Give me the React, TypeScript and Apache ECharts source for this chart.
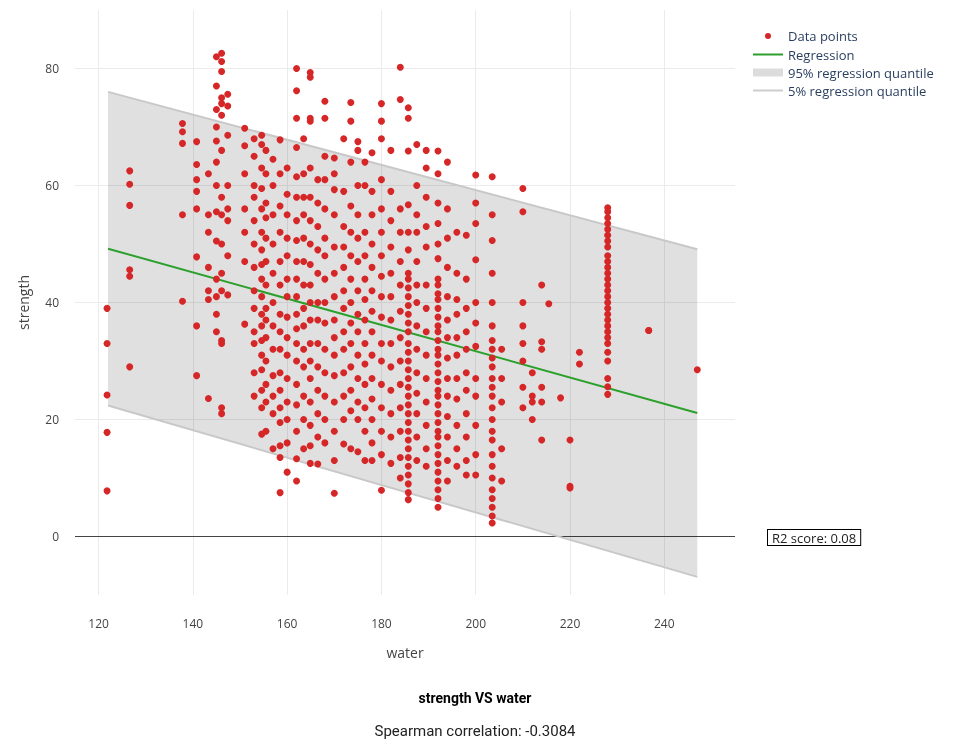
import React, { useEffect, useRef } from "react";
import * as echarts from "echarts";

// water value -> strength readings
const columns: [number, number[]][] = [
  [121.8, [39, 33, 24.2, 17.8, 7.8]],
  [126.6, [62.5, 60.2, 56.6, 45.6, 44.5, 29]],
  [137.8, [70.6, 69.2, 67.2, 55, 40.2]],
  [140.8, [67.5, 63.6, 61, 59, 56, 47.8, 36, 27.5]],
  [143.3, [62, 55, 52, 46, 42, 40.5, 23.6]],
  [145, [82, 77, 73, 70, 67.6, 64, 60, 55.5, 50.5, 44, 41, 38, 35]],
  [146.1, [82.6, 81.2, 79.5, 75, 74, 72, 66, 58, 55, 50, 45, 42, 33.5, 33, 22, 21]],
  [147.4, [75.6, 73.6, 68.6, 60, 56, 54, 48, 41.3]],
  [151, [69.8, 66.8, 62, 56, 52, 47, 36.3]],
  [153, [68, 65, 60, 58, 54, 50, 46, 42, 39, 35, 33, 28, 24]],
  [154.6, [68.6, 67, 63, 59.5, 56, 52, 49, 46.5, 44, 41, 38, 36, 33.5, 31, 28.5, 25, 22, 17.5]],
  [155.5, [66, 62, 57, 54.5, 51, 47, 43, 39, 37, 34, 30, 26, 23, 18]],
  [157, [64.5, 60, 55, 50, 45, 40, 36, 32, 27.5, 24, 21, 15]],
  [158.5, [67.8, 62, 56.5, 52, 47, 43, 38, 35, 32, 28, 25, 22, 19.5, 15.5, 13.5, 7.5]],
  [160, [63, 58.5, 55, 51, 48, 44, 41, 37.5, 34, 31, 27, 23, 20, 16, 11]],
  [162, [80, 76.2, 71.5, 66.5, 61.5, 58, 54, 50.6, 47, 44, 41, 38, 35.5, 33, 30, 26, 22.5, 18, 13.3, 9.5]],
  [163.5, [68, 62, 58, 55, 51, 47, 43, 39, 36, 32, 29, 24, 20, 15]],
  [164.9, [79.3, 78.5, 71.5, 71, 63, 58, 54, 50, 46.5, 43, 40, 37, 33, 30, 27, 23, 19, 15.5, 12.5]],
  [166.5, [61, 57, 53, 49, 45, 40, 37, 33, 29, 25, 21, 17, 12.4]],
  [168, [74.4, 71.5, 65, 61, 56, 51, 48, 44, 40, 36.5, 32, 28, 24, 20, 16]],
  [170, [64.7, 62, 59.3, 55, 49.5, 45, 41, 37, 34, 31, 27.5, 23, 18, 13, 7.4]],
  [172, [68, 59, 53, 49.5, 46, 42, 39, 35, 32, 28, 24, 20, 15.8]],
  [173.5, [74.2, 71, 64, 56.5, 52, 48, 44, 40, 36.5, 33, 29, 25, 21.5, 15]],
  [175, [67.5, 66, 60, 55, 51, 47, 42, 38, 35, 31, 27, 23, 20, 14.5]],
  [176.5, [64, 60, 52, 48, 44, 40.5, 37, 33, 29.5, 26, 22, 18, 13]],
  [178, [65.6, 59, 55, 50, 46, 42, 38.5, 35, 31, 27, 23.5, 20, 16, 13]],
  [180, [74, 71, 68, 61, 56, 52, 48, 44.5, 41, 37.5, 33, 30, 26, 22, 18, 14, 7.9]],
  [182, [66, 59, 54, 49.5, 45, 41, 37, 33, 29, 25, 21, 17, 12.5]],
  [184, [80.2, 74.7, 56, 52, 47, 43, 38.5, 34, 30, 26, 22, 18, 13.5, 10]],
  [185.7, [73.3, 71.5, 65.9, 56.7, 52, 49, 45, 44, 42.5, 41, 39.5, 38, 36.5, 35, 33, 31.5, 30, 28.5, 27, 25.5, 24, 22.5, 21, 19.5, 18, 16.5, 15, 13.5, 12, 10.5, 9, 7.5, 6.3]],
  [187.5, [67, 60, 55, 52, 47, 43, 40, 36, 32, 28, 24.5, 21, 17, 13]],
  [189.5, [66, 63, 58, 53, 49.5, 43, 39, 35, 31, 27, 23, 19, 15, 12]],
  [192, [65.9, 62, 57, 53.5, 50, 47.5, 44, 43, 41.5, 40.5, 39, 37.5, 36, 35, 33.5, 32, 31, 29.5, 28, 26.5, 25, 24, 22.5, 21, 19.5, 18, 17, 15.5, 14, 12.5, 11, 9.5, 8, 6.5, 5]],
  [194, [64, 56, 51, 46, 41, 37, 34, 30.5, 27, 24, 20.5, 17, 13, 9.5]],
  [196, [52, 45, 40.5, 38, 34, 31, 27, 23.5, 19, 15, 12]],
  [198, [51.5, 44, 39, 35, 32, 28, 25, 21, 17, 13, 10.5]],
  [200, [61.8, 57, 53.5, 47.3, 40, 36.5, 32.5, 27, 24, 19, 14, 10.5]],
  [203.5, [61.5, 55, 50.6, 45, 40, 36, 33.5, 32, 30.5, 29, 27, 25.5, 24, 22, 20, 18, 16.5, 14, 12, 10, 8, 6.5, 5, 3.5, 2.3]],
  [205.5, [32, 27, 23, 15, 9.5]],
  [210, [59.5, 55.5, 40, 36, 33, 30, 25.5, 22]],
  [212, [28, 24, 23, 20]],
  [214, [43, 33.3, 32, 25.5, 16.5, 23]],
  [215.5, [39.8]],
  [218, [23.7]],
  [220, [16.5, 8.6, 8.3]],
  [222, [31.5, 29.5]],
  [228, [56.2, 55.5, 54.5, 53.5, 52.5, 51.5, 50.5, 49.5, 48, 47, 46, 45, 44, 43, 42, 41, 40, 39, 38, 37, 36, 35, 34, 33, 31.5, 30, 27, 25.6, 24.3]],
  [236.7, [35.2, 35.2]],
  [247, [28.5]],
];

const regX = [122, 247];
const regY = [49.2, 21.1];
const upperY = [76, 49.1];
const lowerY = [22.4, -6.9];
const xTicks = [120, 140, 160, 180, 200, 220, 240];
const yTicks = [20, 40, 60, 80];

const points: [number, number][] = [];
columns.forEach(([w, s]) => s.forEach((v) => points.push([w, v])));

export default function App() {
  const ref = useRef<HTMLDivElement>(null);
  useEffect(() => {
    const chart = echarts.init(ref.current!, null, { renderer: "svg" });
    const font = "Open Sans";
    const grey = "#ebebeb";
    chart.setOption({
      animation: false,
      textStyle: { fontFamily: font },
      title: [
        { text: "strength VS water", left: 470, textAlign: "center", top: 686, textStyle: { fontFamily: "Roboto", fontSize: 14, fontWeight: "bold", color: "#000" } },
        { text: "Spearman correlation: -0.3084", left: 470, textAlign: "center", top: 718, textStyle: { fontFamily: "Roboto", fontSize: 15, fontWeight: "normal", color: "#222" } },
      ],
      legend: {
        orient: "vertical",
        left: 748,
        top: 24,
        itemGap: 5,
        itemWidth: 30,
        itemHeight: 14,
        textStyle: { fontSize: 13, color: "#2a3f5f", fontFamily: font },
        data: [
          { name: "Data points", icon: "path://M0,0L0.01,0.01M30,14L29.99,13.99M18,7A3,3 0 1,1 12,7A3,3 0 1,1 18,7Z", itemStyle: { color: "#d62728" } },
          { name: "Regression", icon: "path://M0,6h30v2h-30z", itemStyle: { color: "#2ca02c" } },
          { name: "95% regression quantile", icon: "path://M0,3h30v8h-30z", itemStyle: { color: "#dcdcdc" } },
          { name: "5% regression quantile", icon: "path://M0,6h30v2h-30z", itemStyle: { color: "#cccccc" } },
        ],
      },
      grid: { left: 75, top: 10, right: 220, bottom: 148 },
      xAxis: {
        type: "value", min: 115, max: 255, interval: 5,
        axisLine: { show: false }, axisTick: { show: false }, splitLine: { show: false },
        axisLabel: { formatter: (v: number) => (xTicks.includes(v) ? String(v) : ""), color: "#444", fontSize: 12, margin: 22 },
        name: "water", nameLocation: "middle", nameGap: 50, nameTextStyle: { fontSize: 14, color: "#444" },
      },
      yAxis: {
        type: "value", min: -10, max: 90, interval: 10,
        axisLine: { show: false }, axisTick: { show: false }, splitLine: { show: false },
        axisLabel: { formatter: (v: number) => (v === 0 || yTicks.includes(v) ? String(v) : ""), color: "#444", fontSize: 12, margin: 16 },
        name: "strength", nameLocation: "middle", nameGap: 45, nameTextStyle: { fontSize: 14, color: "#444" },
      },
      series: [
        {
          type: "line", data: [], silent: true, z: 0,
          markLine: {
            silent: true, symbol: "none", label: { show: false }, animation: false, z: 0,
            lineStyle: { color: grey, type: "solid", width: 1 },
            data: [
              ...xTicks.map((x) => ({ xAxis: x })),
              ...yTicks.map((y) => ({ yAxis: y })),
              { yAxis: 0, lineStyle: { color: "#444", width: 1 } },
            ],
          },
        },
        {
          name: "95% regression quantile",
          type: "custom",
          data: [0],
          z: 1,
          renderItem: (_p: any, api: any) => {
            const pts = [
              api.coord([regX[0], upperY[0]]), api.coord([regX[1], upperY[1]]),
              api.coord([regX[1], lowerY[1]]), api.coord([regX[0], lowerY[0]]),
            ];
            return { type: "polygon", shape: { points: pts }, style: { fill: "rgba(0,0,0,0.12)", stroke: "none" } };
          },
        },
        {
          name: "95% regression quantile", type: "line", symbol: "none", z: 2,
          data: [[regX[0], upperY[0]], [regX[1], upperY[1]]],
          lineStyle: { color: "#c8c8c8", width: 2 },
        },
        {
          name: "5% regression quantile", type: "line", symbol: "none", z: 2,
          data: [[regX[0], lowerY[0]], [regX[1], lowerY[1]]],
          lineStyle: { color: "#c8c8c8", width: 2 },
        },
        {
          name: "Data points", type: "scatter", z: 5, symbolSize: 7,
          itemStyle: { color: "#d62728", opacity: 1 },
          data: points,
        },
        {
          name: "Regression", type: "line", symbol: "none", z: 4,
          data: [[regX[0], regY[0]], [regX[1], regY[1]]],
          lineStyle: { color: "#2ca02c", width: 2 },
        },
      ],
      graphic: [
        {
          type: "text", left: 767, top: 529,
          style: {
            text: "R2 score: 0.08", fontSize: 13, fontFamily: font, fill: "#222",
            backgroundColor: "#fff", borderColor: "#000", borderWidth: 1, padding: [1, 4],
          },
        },
      ],
    });
    return () => chart.dispose();
  }, []);
  return <div ref={ref} style={{ position: "fixed", left: 0, top: 0, width: 955, height: 743 }} />;
}
